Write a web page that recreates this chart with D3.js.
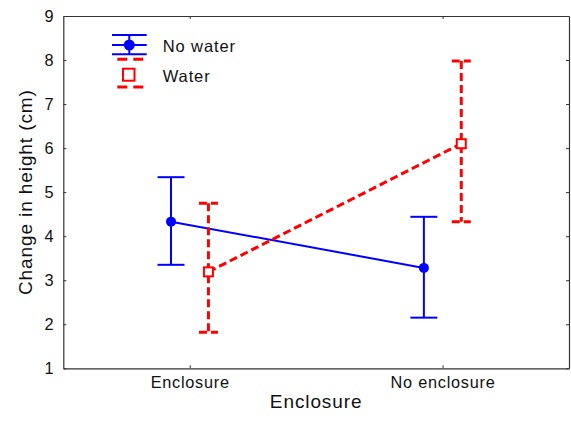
<!DOCTYPE html>
<html>
<head>
<meta charset="utf-8">
<script src="https://cdn.jsdelivr.net/npm/d3@7"></script>
<style>
  html, body { margin: 0; padding: 0; background: #fff; }
  svg { display: block; }
  text { font-family: "Liberation Sans", Arial, Helvetica, sans-serif; fill: #111; }
</style>
</head>
<body>
<svg id="chart" width="571" height="422"></svg>
<script>
// ---- data ----
const categories = ["Enclosure", "No enclosure"];
const seriesNames = ["No water", "Water"];
const noWaterMean  = [4.33, 3.28];
const noWaterUpper = [5.34, 4.44];
const noWaterLower = [3.35, 2.15];
const waterMean  = [3.19, 6.10];
const waterUpper = [4.75, 7.98];
const waterLower = [1.82, 4.33];
const yTicks = [1, 2, 3, 4, 5, 6, 7, 8, 9];
const xTitle = "Enclosure";
const yTitle = "Change in height (cm)";

(function () {
// ---- layout ----
const mLeft = 63.3, mRight = 569, mTop = 16, mBottom = 368.3;
const svg = d3.select("#chart");

const x = d3.scalePoint().domain(categories).range([mLeft, mRight]).padding(0.5);
const y = d3.scaleLinear().domain([1, 9]).range([mBottom, mTop]);

const blue = "#0000ff", red = "#ff0000";
const offset = 18.7;

const series = [
  { name: seriesNames[0], mean: noWaterMean, upper: noWaterUpper, lower: noWaterLower,
    color: blue, dx: -offset, width: 2, dash: null, cap: 13.5, marker: "circle" },
  { name: seriesNames[1], mean: waterMean, upper: waterUpper, lower: waterLower,
    color: red, dx: offset, width: 3, dash: "8,4", cap: 9.5, marker: "square" }
];

// ---- axes / frame ----
const axisColor = "#333";
function styleAxis(g) {
  g.select(".domain").attr("stroke", axisColor).attr("stroke-width", 1.2);
  g.selectAll(".tick line").attr("stroke", axisColor).attr("stroke-width", 1);
}
svg.append("g").attr("transform", `translate(${mLeft},0)`)
  .call(d3.axisLeft(y).tickValues(yTicks).tickFormat(d3.format("d")).tickSize(-3).tickPadding(9).tickSizeOuter(0))
  .call(styleAxis)
  .call(g => g.selectAll(".tick text").attr("font-size", 16.3).attr("letter-spacing", 0.75)
    .attr("font-family", "Liberation Sans, Arial, sans-serif").attr("fill", "#111").attr("dy", "0.33em"));
svg.append("g").attr("transform", `translate(${mRight},0)`)
  .call(d3.axisRight(y).tickValues(yTicks).tickFormat("").tickSize(-3).tickSizeOuter(0))
  .call(styleAxis);
svg.append("g").attr("transform", `translate(0,${mBottom})`)
  .call(d3.axisBottom(x).tickSize(-3).tickPadding(8).tickSizeOuter(0))
  .call(styleAxis)
  .call(g => g.selectAll(".tick text").attr("font-size", 16.3).attr("letter-spacing", 0.75)
    .attr("font-family", "Liberation Sans, Arial, sans-serif").attr("fill", "#111")
    .attr("y", 20).attr("dy", 0));
svg.append("g").attr("transform", `translate(0,${mTop})`)
  .call(d3.axisTop(x).tickFormat("").tickSize(-3).tickSizeOuter(0))
  .call(styleAxis);

// axis titles
svg.append("text").attr("x", (mLeft + mRight) / 2).attr("y", 408)
  .attr("text-anchor", "middle").attr("font-size", 19).attr("letter-spacing", 0.9)
  .text(xTitle);
svg.append("text").attr("transform", `translate(32,${(mTop + mBottom) / 2}) rotate(-90)`)
  .attr("text-anchor", "middle").attr("font-size", 19).attr("letter-spacing", 0.9)
  .text(yTitle);

// ---- data marks ----
const plot = svg.append("g");
series.forEach(s => {
  const pts = categories.map((c, i) => ({ c, i, m: s.mean[i], u: s.upper[i], l: s.lower[i] }));
  const px = d => x(d.c) + s.dx;
  plot.append("path").datum(pts)
    .attr("d", d3.line().x(px).y(d => y(d.m)))
    .attr("fill", "none").attr("stroke", s.color).attr("stroke-width", s.width)
    .attr("stroke-dasharray", s.dash);
  const eb = plot.append("g").selectAll("g").data(pts).join("g");
  eb.append("line")
    .attr("x1", px).attr("x2", px).attr("y1", d => y(d.u)).attr("y2", d => y(d.l))
    .attr("stroke", s.color).attr("stroke-width", s.width).attr("stroke-dasharray", s.dash);
  ["u", "l"].forEach(k => {
    eb.append("line")
      .attr("x1", d => px(d) - s.cap).attr("x2", d => px(d) + s.cap)
      .attr("y1", d => y(d[k])).attr("y2", d => y(d[k]))
      .attr("stroke", s.color).attr("stroke-width", s.width).attr("stroke-dasharray", s.dash);
  });
  if (s.marker === "circle") {
    plot.append("g").selectAll("circle").data(pts).join("circle")
      .attr("cx", px).attr("cy", d => y(d.m)).attr("r", 5).attr("fill", s.color);
  } else {
    plot.append("g").selectAll("rect").data(pts).join("rect")
      .attr("x", d => px(d) - 4.5).attr("y", d => y(d.m) - 4.5)
      .attr("width", 9).attr("height", 9)
      .attr("fill", "#fff").attr("stroke", s.color).attr("stroke-width", 2);
  }
});

// ---- legend ----
const lg = svg.append("g");
const lb = lg.append("g");
[35, 45, 54.3].forEach(yy => lb.append("line").attr("x1", 112).attr("x2", 146.7)
  .attr("y1", yy).attr("y2", yy).attr("stroke", blue).attr("stroke-width", 2));
lb.append("line").attr("x1", 129.3).attr("x2", 129.3).attr("y1", 35).attr("y2", 54.3)
  .attr("stroke", blue).attr("stroke-width", 2);
lb.append("circle").attr("cx", 129.3).attr("cy", 45).attr("r", 5.5).attr("fill", blue);
lg.append("text").attr("x", 162.7).attr("y", 51.7).attr("font-size", 16.5).attr("letter-spacing", 0.9)
  .text(series[0].name);
const lr = lg.append("g");
[59.3, 87].forEach(yy => lr.append("line").attr("x1", 117.3).attr("x2", 144)
  .attr("y1", yy).attr("y2", yy).attr("stroke", red).attr("stroke-width", 3)
  .attr("stroke-dasharray", "10,6"));
lr.append("rect").attr("x", 123).attr("y", 68.7).attr("width", 11.5).attr("height", 12)
  .attr("fill", "#fff").attr("stroke", red).attr("stroke-width", 2);
lg.append("text").attr("x", 162.7).attr("y", 81.7).attr("font-size", 16.5).attr("letter-spacing", 0.9)
  .text(series[1].name);
})();
</script>
</body>
</html>
